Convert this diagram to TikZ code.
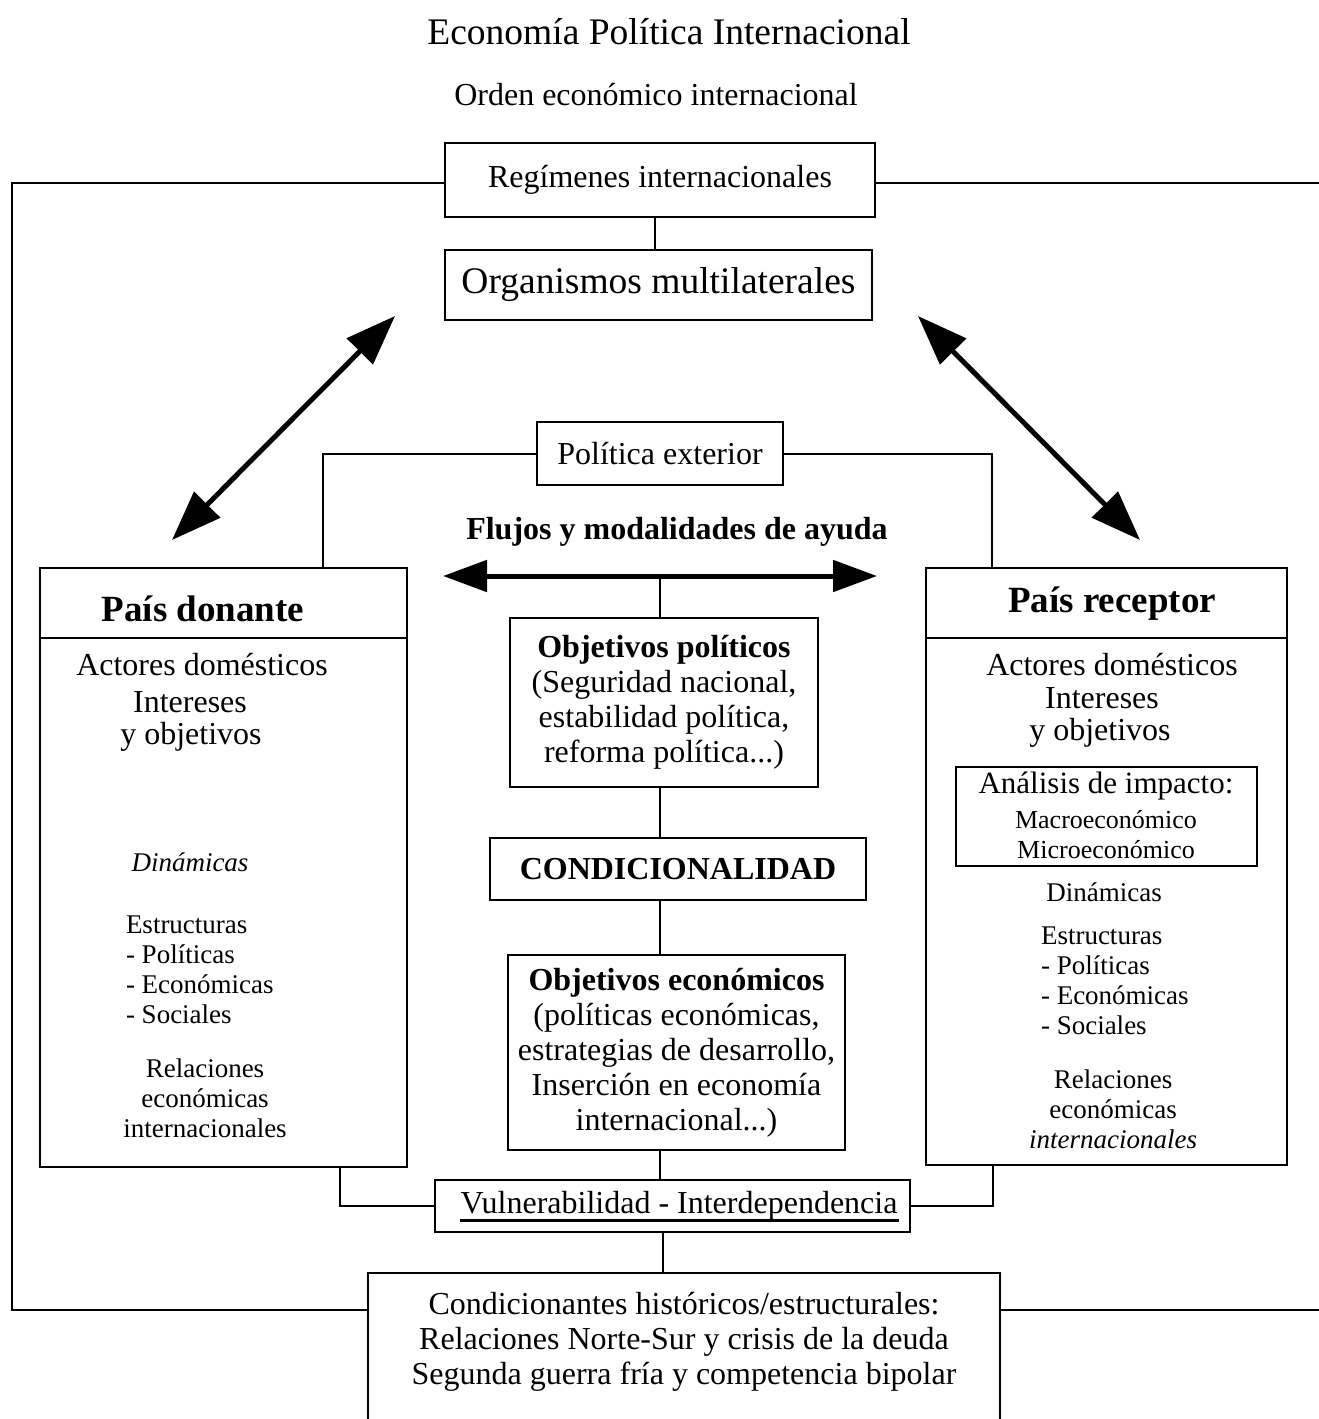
\documentclass[tikz,border=0pt]{standalone}
\usepackage{fontspec}
\setmainfont{Liberation Serif}
\usetikzlibrary{arrows.meta,calc}

\begin{document}
\begin{tikzpicture}[x=1pt,y=-1pt,line width=2pt,
  box/.style={draw,line width=2pt,inner sep=0pt,align=center},
  txt/.style={inner sep=0pt,align=center,font=\fontsize{32}{35}\selectfont},
  big/.style={inner sep=0pt,align=center,font=\fontsize{37.5}{40}\selectfont},
  bigb/.style={inner sep=0pt,align=center,font=\fontsize{37}{40}\selectfont\bfseries},
  txtb/.style={inner sep=0pt,align=center,font=\fontsize{32}{35}\selectfont\bfseries},
  small/.style={inner sep=0pt,font=\fontsize{27}{30}\selectfont},
  dblarrow/.style={{Triangle[length=50pt,width=36pt]}-{Triangle[length=50pt,width=36pt]},line width=5pt},
  flowarrow/.style={{Triangle[length=44pt,width=31pt]}-{Triangle[length=44pt,width=31pt]},line width=5pt},
  link/.style={line width=2pt}]

\useasboundingbox (0,0) rectangle (1319,1419);
\clip (0,0) rectangle (1319,1419);

% headings
\node[big] (title) at (669,32) {Economía Política Internacional};
\node[txt] (orden) at (656,95) {Orden económico internacional};

% international level
\node[box,minimum width=430,minimum height=74,font=\fontsize{32}{35}\selectfont] (reg) at (660,180) {Regímenes internacionales};
\node[box,minimum width=427,minimum height=70,font=\fontsize{37.5}{40}\selectfont] (org) at (658.5,285) {Organismos multilaterales};

% foreign policy
\node[box,minimum width=246,minimum height=63,font=\fontsize{32}{35}\selectfont] (pol) at (660,453.5) {Política exterior};
\node[txtb] (flujos) at (677,532) {Flujos y modalidades de ayuda};

% country boxes
\node[box,minimum width=367,minimum height=599] (donante) at (223.5,867.5) {};
\node[box,minimum width=361,minimum height=597] (receptor) at (1106.5,866.5) {};
\draw[link] (donante.west |- 0,638) -- (donante.east |- 0,638);
\draw[link] (receptor.west |- 0,638) -- (receptor.east |- 0,638);

% donor contents
\node[bigb] (dtit) at (203,609) {País donante};
\node[txt] (dact) at (202,665) {Actores domésticos};
\node[txt] (dint) at (190,702) {Intereses};
\node[txt] (dobj) at (191,737) {y objetivos};
\node[small,font=\fontsize{27}{30}\selectfont\itshape] (ddin) at (190,862) {Dinámicas};
\node[small,align=left,anchor=west] (dest) at (125,970) {Estructuras\\- Políticas\\- Económicas\\- Sociales};
\node[small,align=center] (drel) at (205,1098) {Relaciones\\económicas\\internacionales};

% recipient contents
\node[bigb] (rtit) at (1112,604) {País receptor};
\node[txt] (ract) at (1112,665) {Actores domésticos};
\node[txt] (rint) at (1102,698) {Intereses};
\node[txt] (robj) at (1100,733) {y objetivos};
\node[box,minimum width=301,minimum height=99] (anal) at (1106.5,816.5) {};
\node[inner sep=0pt,font=\fontsize{31}{33}\selectfont] (atit) at (1106,786) {Análisis de impacto:};
\node[small,font=\fontsize{26}{30}\selectfont] (amac) at (1106,820) {Macroeconómico};
\node[small,font=\fontsize{26}{30}\selectfont] (amic) at (1106,850) {Microeconómico};
\node[small] (rdin) at (1104,892) {Dinámicas};
\node[small,align=left,anchor=west] (rest) at (1040,981) {Estructuras\\- Políticas\\- Económicas\\- Sociales};
\node[small,align=center] (rrel) at (1113,1109) {Relaciones\\económicas\\\textit{internacionales}};

% central column
\node[box,minimum width=308,minimum height=169,font=\fontsize{32}{35}\selectfont] (objpol) at (664,702.5)
  {\textbf{Objetivos políticos}\\(Seguridad nacional,\\estabilidad política,\\reforma política...)};
\node[box,minimum width=376,minimum height=62,font=\fontsize{32}{35}\selectfont\bfseries] (condic) at (678,869) {CONDICIONALIDAD};
\node[box,minimum width=337,minimum height=195,font=\fontsize{32}{35}\selectfont] (objeco) at (676.5,1052.5)
  {\textbf{Objetivos económicos}\\(políticas económicas,\\estrategias de desarrollo,\\Inserción en economía\\internacional...)};
\node[box,minimum width=475,minimum height=52] (vul) at (672.5,1206) {};
\node[txt] (vultxt) at (679,1206) {Vulnerabilidad - Interdependencia};
% thick underline below the text
\draw[line width=2.6pt] ([yshift=-7pt]vultxt.base west) -- ([yshift=-7pt]vultxt.base east);

% historical conditions (box runs off the bottom edge)
\node[box,anchor=north,minimum width=632,minimum height=170] (hist) at (684,1272) {};
\node[txt] (histtxt) at (684,1342) {Condicionantes históricos/estructurales:\\Relaciones Norte-Sur y crisis de la deuda\\Segunda guerra fría y competencia bipolar};

% helper coordinates
\coordinate (jx) at (660,0);
\coordinate (dlx) at (323,0);
\coordinate (drx) at (992,0);
\coordinate (vlx) at (340,0);
\coordinate (vrx) at (993,0);
\coordinate (frameL) at (12,0);
\coordinate (frameR) at (1319,0);
\coordinate (fl) at (443,576);
\coordinate (fr) at (877,576);
\coordinate (al1) at (395,316);
\coordinate (al2) at (172,540);
\coordinate (ar1) at (918,316);
\coordinate (ar2) at (1140,540);

% connectors
\draw[link] (reg.south -| 655,0) -- (org.north -| 655,0);
\draw[link] (reg.west |- 0,183) -| (frameL |- 0,1310) -- (hist.west |- 0,1310);
\draw[link] (reg.east |- 0,183) -- (frameR |- 0,183);
\draw[link] (hist.east |- 0,1310) -- (frameR |- 0,1310);
\draw[link] (pol.west) -| (donante.north -| dlx);
\draw[link] (pol.east) -| (receptor.north -| drx);
\draw[flowarrow] (fl) -- (fr);
\draw[link] (objpol.north -| jx) -- (fl -| jx);
\draw[link] (objpol.south -| jx) -- (condic.north -| jx);
\draw[link] (condic.south -| jx) -- (objeco.north -| jx);
\draw[link] (objeco.south -| jx) -- (vul.north -| jx);
\draw[link] (vul.south -| 663,0) -- (hist.north -| 663,0);
\draw[link] (vul.west) -| (donante.south -| vlx);
\draw[link] (vul.east) -| (receptor.south -| vrx);
\draw[dblarrow] (al1) -- (al2);
\draw[dblarrow] (ar1) -- (ar2);

\end{tikzpicture}
\end{document}
